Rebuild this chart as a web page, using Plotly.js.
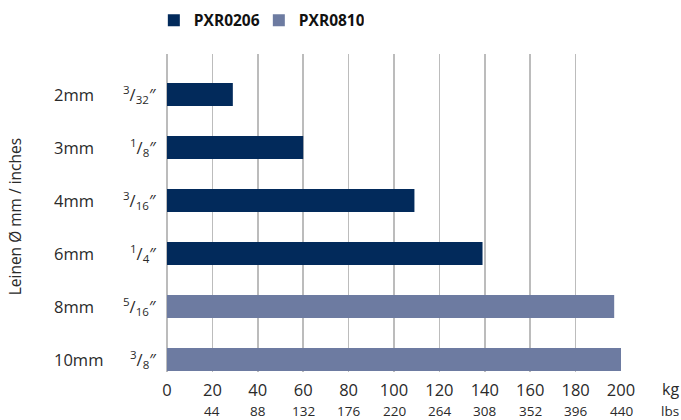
<!DOCTYPE html>
<html>
<head>
<meta charset="utf-8">
<script src="https://cdn.plot.ly/plotly-3.0.1.min.js"></script>
<style>html,body{margin:0;padding:0;background:#fff;}#chart{width:681px;height:420px;}</style>
</head>
<body>
<div id="chart"></div>
<script>
// Data
const categories = ["2mm", "3mm", "4mm", "6mm", "8mm", "10mm"];
const inchLabels = ["<sup>3</sup>/<sub>32</sub>″", "<sup>1</sup>/<sub>8</sub>″", "<sup>3</sup>/<sub>16</sub>″", "<sup>1</sup>/<sub>4</sub>″", "<sup>5</sup>/<sub>16</sub>″", "<sup>3</sup>/<sub>8</sub>″"];
const seriesNames = ["PXR0206", "PXR0810"];
const pxr0206 = [29, 60, 109, 139, null, null];
const pxr0810 = [null, null, null, null, 197, 200];
const kgTicks = [0, 20, 40, 60, 80, 100, 120, 140, 160, 180, 200];
const lbsTicks = ["", "44", "88", "132", "176", "220", "264", "308", "352", "396", "440"];

const FONT = "Open Sans, Noto Sans, sans-serif";
const TXT = "#2a2a2a";
const colors = ["#022a5b", "#6d7ba1"];

const traces = [
  {type: "bar", orientation: "h", name: seriesNames[0], y: categories, x: pxr0206,
   marker: {color: colors[0]}, width: 0.434, hoverinfo: "x+y"},
  {type: "bar", orientation: "h", name: seriesNames[1], y: categories, x: pxr0810,
   marker: {color: colors[1]}, width: 0.434, hoverinfo: "x+y"}
];

const annotations = [];
categories.forEach((c, i) => {
  annotations.push({xref: "paper", yref: "y", x: -0.2533, y: c, text: c, showarrow: false,
    xanchor: "left", yanchor: "middle", font: {family: FONT, size: 16.5, color: TXT}});
  annotations.push({xref: "paper", yref: "y", x: -0.018, y: c, text: inchLabels[i], showarrow: false,
    xanchor: "right", yanchor: "middle", font: {family: FONT, size: 16.5, color: TXT}});
});
annotations.push({xref: "paper", yref: "paper", x: -0.333, y: 0.489, text: "Leinen Ø mm / inches",
  textangle: -90, showarrow: false, xanchor: "center", yanchor: "middle",
  font: {family: FONT, size: 15.5, color: TXT}});
annotations.push({xref: "paper", yref: "paper", x: 1.108, y: -0.054, text: "kg", showarrow: false,
  xanchor: "center", yanchor: "middle", font: {family: FONT, size: 16, color: TXT}});
annotations.push({xref: "paper", yref: "paper", x: 1.108, y: -0.123, text: "lbs", showarrow: false,
  xanchor: "center", yanchor: "middle", font: {family: FONT, size: 13.5, color: TXT}});
kgTicks.forEach((v, i) => {
  if (lbsTicks[i]) {
    annotations.push({xref: "x", yref: "paper", x: v, y: -0.123, text: lbsTicks[i], showarrow: false,
      xanchor: "center", yanchor: "middle", font: {family: FONT, size: 13.5, color: TXT}});
  }
});

const layout = {
  width: 681, height: 420,
  margin: {l: 167, r: 60, t: 54, b: 48, pad: 0, autoexpand: false},
  paper_bgcolor: "#ffffff", plot_bgcolor: "#ffffff",
  barmode: "overlay",
  showlegend: true,
  legend: {orientation: "h", x: -0.029, xanchor: "left", y: 1.105, yanchor: "middle",
    entrywidth: 60, entrywidthmode: "pixels",
    font: {family: FONT, size: 15.5, color: "#111", weight: "bold"}, traceorder: "normal",
    itemclick: false, bgcolor: "rgba(0,0,0,0)"},
  xaxis: {range: [0, 200], tickvals: kgTicks, ticktext: kgTicks.map(String),
    showgrid: true, gridcolor: "#bcbcbc", gridwidth: 1.6, zeroline: true, zerolinecolor: "#bcbcbc", zerolinewidth: 1.6,
    showline: false, ticks: "", ticklabelstandoff: 6,
    tickfont: {family: FONT, size: 16.5, color: TXT}, fixedrange: true},
  yaxis: {type: "category", categoryarray: categories, range: [5.236, -0.764],
    showgrid: false, zeroline: false, showline: false, showticklabels: false, ticks: "", fixedrange: true},
  annotations: annotations,
  font: {family: FONT, color: TXT}
};

Plotly.newPlot("chart", traces, layout, {displayModeBar: false, staticPlot: true});
</script>
</body>
</html>
